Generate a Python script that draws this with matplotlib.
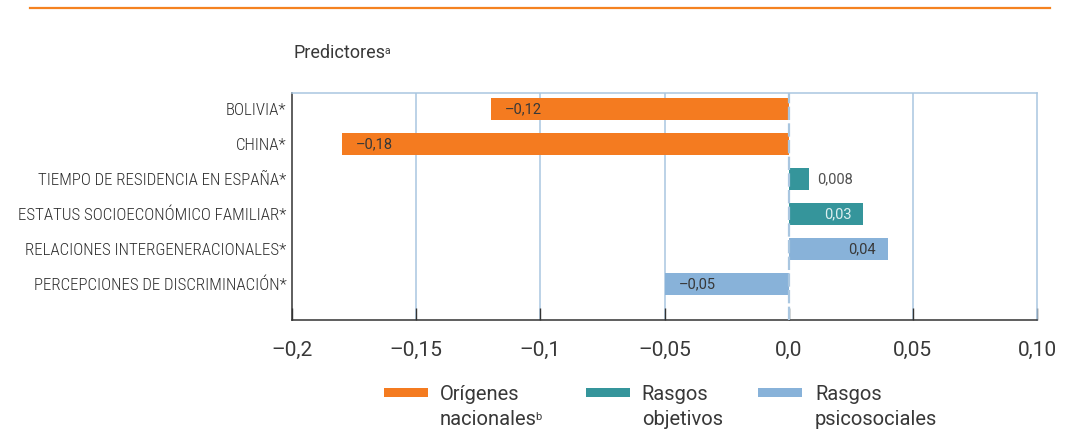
import matplotlib
matplotlib.use("Agg")
import matplotlib.pyplot as plt
from matplotlib.patches import Rectangle
from matplotlib.lines import Line2D

plt.rcParams['font.family'] = ['Roboto', 'DejaVu Sans']

# data
predictores = [
    "BOLIVIA*",
    "CHINA*",
    "TIEMPO DE RESIDENCIA EN ESPAÑA*",
    "ESTATUS SOCIOECONÓMICO FAMILIAR*",
    "RELACIONES INTERGENERACIONALES*",
    "PERCEPCIONES DE DISCRIMINACIÓN*",
]
coeficientes = [-0.12, -0.18, 0.008, 0.03, 0.04, -0.05]
etiquetas = ["–0,12", "–0,18", "0,008", "0,03", "0,04", "–0,05"]
grupo = [0, 0, 1, 1, 2, 2]

grupos_l1 = ["Orígenes", "Rasgos", "Rasgos"]
grupos_l2 = ["nacionales", "objetivos", "psicosociales"]
grupos_sup = ["b", "", ""]
colores = ["#F47B20", "#35959B", "#88B2D9"]

xticks = [-0.2, -0.15, -0.1, -0.05, 0.0, 0.05, 0.10]
xticklabels = ["–0,2", "–0,15", "–0,1", "–0,05", "0,0", "0,05", "0,10"]

grid_color = "#A9C6E0"
text_color = "#383838"


def add_sup(fig, txt, s, size):
    """Put a small superscript right after a figure text."""
    r = fig.canvas.get_renderer()
    bb = txt.get_window_extent(r).transformed(fig.transFigure.inverted())
    return fig.text(bb.x1 - 0.0012, bb.y1 - 0.004, s, fontsize=size, color=text_color,
                    ha="left", va="top")


fig = plt.figure(figsize=(10.68, 4.30), dpi=100)
ax = fig.add_axes([0.2734, 0.2558, 0.6976, 0.5279])

ypos = list(range(len(predictores)))
bar_colors = [colores[g] for g in grupo]
ax.barh(ypos, coeficientes, height=0.63, color=bar_colors, zorder=3)

# value labels
for y, v, lab, g in zip(ypos, coeficientes, etiquetas, grupo):
    if v < 0:
        ax.annotate(lab, (v, y), xytext=(10, 0), textcoords="offset points",
                    ha="left", va="center", fontsize=10.5, color=text_color, zorder=4)
    elif abs(v) < 0.01:
        ax.annotate(lab, (v, y), xytext=(6, 0), textcoords="offset points",
                    ha="left", va="center", fontsize=10.5, color="#505050", zorder=4)
    else:
        c = "#DDEFEF" if g == 1 else text_color
        ax.annotate(lab, (v, y), xytext=(-8.5, 0), textcoords="offset points",
                    ha="right", va="center", fontsize=10.5, color=c, zorder=4)

ax.set_xlim(-0.2, 0.10)
ax.set_ylim(len(predictores) - 1 + 1.03, -0.46)
ax.set_yticks(ypos)
ax.set_yticklabels(predictores, fontsize=12.2, color="#2E2E2E",
                   family="Roboto Condensed", fontweight="light")
ax.set_xticks(xticks)
ax.set_xticklabels(xticklabels, fontsize=15, color=text_color)

ax.tick_params(axis="y", length=0, pad=4)
ax.tick_params(axis="x", direction="in", length=9, width=1, color="#333333", pad=15)

# vertical grid
for xv in [-0.15, -0.1, -0.05, 0.05]:
    ax.axvline(xv, color=grid_color, lw=1.1, zorder=1)
ax.axvline(0, color=grid_color, lw=1.6, ls=(0, (6, 1.5)), zorder=5)

ax.spines["left"].set_color("#333333")
ax.spines["bottom"].set_color("#333333")
ax.spines["top"].set_color(grid_color)
ax.spines["right"].set_color(grid_color)
for s in ax.spines.values():
    s.set_linewidth(1.1)

t = fig.text(0.275, 0.8651, "Predictores", fontsize=13, color=text_color,
             ha="left", va="baseline")
add_sup(fig, t, "a", 7.5)

# top orange rule
fig.add_artist(Line2D([0.028, 0.983], [0.981, 0.981], color="#F58220", lw=1.6,
                      transform=fig.transFigure))

# legend, drawn by hand so the swatch sits on the first line
leg_patch_x = [0.3596, 0.5487, 0.7097]
leg_text_x = [0.412, 0.601, 0.763]
for px, tx, c, l1, l2, sp in zip(leg_patch_x, leg_text_x, colores,
                                  grupos_l1, grupos_l2, grupos_sup):
    fig.add_artist(Rectangle((px, 0.0767), 0.0412, 0.0209, facecolor=c, edgecolor="none",
                             transform=fig.transFigure))
    fig.text(tx, 0.0698, l1, fontsize=14.5, color=text_color, ha="left", va="baseline")
    t2 = fig.text(tx, 0.0116, l2, fontsize=14.5, color=text_color, ha="left", va="baseline")
    if sp:
        add_sup(fig, t2, sp, 8)

fig.savefig("out.png", dpi=100)
